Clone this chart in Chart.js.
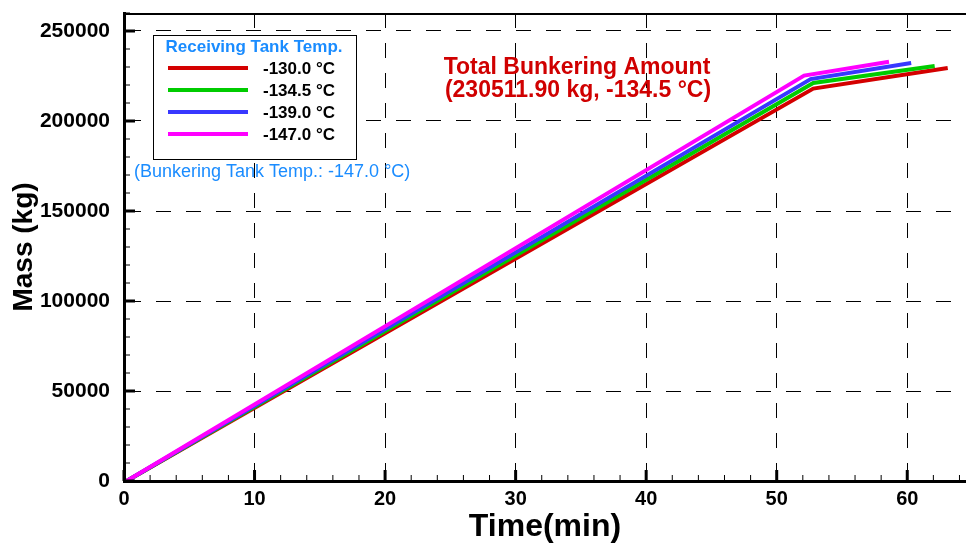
<!DOCTYPE html>
<html>
<head>
<meta charset="utf-8">
<script src="https://cdn.jsdelivr.net/npm/chart.js@4.4.1/dist/chart.umd.min.js"></script>
<style>
  html, body { margin: 0; padding: 0; background: #fff; }
  #wrap { width: 966px; height: 547px; }
</style>
</head>
<body>
<div id="wrap"><canvas id="myChart" width="966" height="547"></canvas></div>
<script>
'use strict';

// data (time in min, mass in kg)

var seriesLabels = ['-130.0 \u00B0C', '-134.5 \u00B0C', '-139.0 \u00B0C', '-147.0 \u00B0C'];
var seriesColors = ['#d40000', '#00cc00', '#3838ff', '#ff00ff'];

var timeRed = [0.2, 52.8, 63.1];
var massRed = [0, 218000, 229400];
var timeGreen = [0.2, 52.8, 62.1];
var massGreen = [0, 221100, 230500];
var timeBlue = [0.2, 52.6, 60.3];
var massBlue = [0, 223300, 232200];
var timeMagenta = [0.2, 52.1, 58.6];
var massMagenta = [0, 225200, 232900];

var xTicks = [0, 10, 20, 30, 40, 50, 60];
var yTicks = [0, 50000, 100000, 150000, 200000, 250000];

var fontName = '"Liberation Sans", Arial, sans-serif';

function toPoints(xs, ys) {
  var pts = [];
  for (var i = 0; i < xs.length; i++) {
    pts.push({ x: xs[i], y: ys[i] });
  }
  return pts;
}

function makeSet(idx, xs, ys, order) {
  return {
    label: seriesLabels[idx],
    data: toPoints(xs, ys),
    borderColor: seriesColors[idx],
    backgroundColor: seriesColors[idx],
    borderWidth: 4,
    pointRadius: 0,
    tension: 0,
    order: order
  };
}

function setTicks(list) {
  return function(scale) {
    scale.ticks = list.map(function(v) { return { value: v }; });
  };
}

function noPad(size, key) {
  return function(scale) {
    scale[key] = size;
    scale.paddingTop = 0;
    scale.paddingBottom = 0;
    scale.paddingLeft = 0;
    scale.paddingRight = 0;
  };
}

function plainLabel(value) {
  return String(value);
}

// inward ticks, top frame, legend box and notes

var decorPlugin = {
  id: 'decor',
  afterDraw: function(chart) {
    var ctx = chart.ctx;
    var area = chart.chartArea;
    var xs = chart.scales.x;
    var ys = chart.scales.y;
    ctx.save();
    ctx.strokeStyle = '#000';

    // top frame
    ctx.lineWidth = 2;
    ctx.beginPath();
    ctx.moveTo(area.left, area.top + 1);
    ctx.lineTo(area.right, area.top + 1);
    ctx.stroke();

    // x minor / major ticks
    for (var v = 0; v <= xs.max; v += 2) {
      var px = xs.getPixelForValue(v);
      var major = v % 10 === 0;
      ctx.lineWidth = major ? 3 : 1;
      ctx.beginPath();
      ctx.moveTo(px, area.bottom);
      ctx.lineTo(px, area.bottom - (major ? 11 : 6));
      ctx.stroke();
    }
    // y minor / major ticks
    for (var w = 0; w <= ys.max; w += 10000) {
      var py = ys.getPixelForValue(w);
      var majorY = w % 50000 === 0;
      ctx.lineWidth = majorY ? 3 : 1;
      ctx.beginPath();
      ctx.moveTo(area.left, py);
      ctx.lineTo(area.left + (majorY ? 11 : 6), py);
      ctx.stroke();
    }

    // legend box
    var bx = 153, by = 35, bw = 203, bh = 124;
    ctx.fillStyle = '#fff';
    ctx.fillRect(bx, by, bw, bh);
    ctx.lineWidth = 1;
    ctx.strokeRect(bx + 0.5, by + 0.5, bw, bh);

    ctx.fillStyle = '#1a8cff';
    ctx.font = 'bold 17px ' + fontName;
    ctx.textAlign = 'center';
    ctx.textBaseline = 'middle';
    ctx.fillText('Receiving Tank Temp.', 254, 47);

    var rows = [68, 90, 112, 134];
    for (var i = 0; i < seriesLabels.length; i++) {
      ctx.strokeStyle = seriesColors[i];
      ctx.lineWidth = 4;
      ctx.beginPath();
      ctx.moveTo(168, rows[i]);
      ctx.lineTo(248, rows[i]);
      ctx.stroke();
      ctx.fillStyle = '#000';
      ctx.font = 'bold 17px ' + fontName;
      ctx.textAlign = 'left';
      ctx.fillText(seriesLabels[i], 263, rows[i] + 1);
    }

    ctx.fillStyle = '#1a8cff';
    ctx.font = '18px ' + fontName;
    ctx.textAlign = 'left';
    ctx.fillText('(Bunkering Tank Temp.: -147.0 \u00B0C)', 134, 172);

    ctx.fillStyle = '#d00000';
    ctx.font = 'bold 23px ' + fontName;
    ctx.textAlign = 'center';
    ctx.fillText('Total Bunkering Amount', 577, 68);
    ctx.fillText('(230511.90 kg, -134.5 \u00B0C)', 578, 91);
    ctx.restore();
  }
};

var ctx = document.getElementById('myChart').getContext('2d');
var chart = new Chart(ctx, {
  type: 'line',
  data: {
    datasets: [
      makeSet(0, timeRed, massRed, 4),
      makeSet(1, timeGreen, massGreen, 3),
      makeSet(2, timeBlue, massBlue, 2),
      makeSet(3, timeMagenta, massMagenta, 1)
    ]
  },
  options: {
    responsive: false,
    animation: false,
    layout: { padding: { top: 13, right: 0, left: 0, bottom: 0 } },
    plugins: {
      legend: { display: false },
      tooltip: { enabled: false }
    },
    scales: {
      x: {
        type: 'linear',
        min: 0,
        max: 64.5,
        afterBuildTicks: setTicks(xTicks),
        afterFit: noPad(66, 'height'),
        ticks: {
          autoSkip: false,
          padding: 6,
          color: '#000',
          callback: plainLabel,
          font: { family: fontName, size: 20, weight: 'bold' }
        },
        grid: { color: '#000', lineWidth: 1, drawTicks: false },
        border: { color: '#000', width: 3, dash: [15, 15] },
        title: {
          display: true,
          text: 'Time(min)',
          color: '#000',
          font: { family: fontName, size: 32, weight: 'bold' },
          padding: { top: 0, bottom: 1 }
        }
      },
      y: {
        type: 'linear',
        min: 0,
        max: 260000,
        afterBuildTicks: setTicks(yTicks),
        afterFit: noPad(124, 'width'),
        ticks: {
          autoSkip: false,
          padding: 14,
          color: '#000',
          callback: plainLabel,
          font: { family: fontName, size: 21, weight: 'bold' }
        },
        grid: { color: '#000', lineWidth: 1, drawTicks: false },
        border: { color: '#000', width: 3, dash: [15, 15] },
        title: {
          display: true,
          text: 'Mass (kg)',
          color: '#000',
          font: { family: fontName, size: 28, weight: 'bold' },
          padding: { top: 7, bottom: 0 }
        }
      }
    }
  },
  plugins: [decorPlugin]
});
</script>
</body>
</html>
